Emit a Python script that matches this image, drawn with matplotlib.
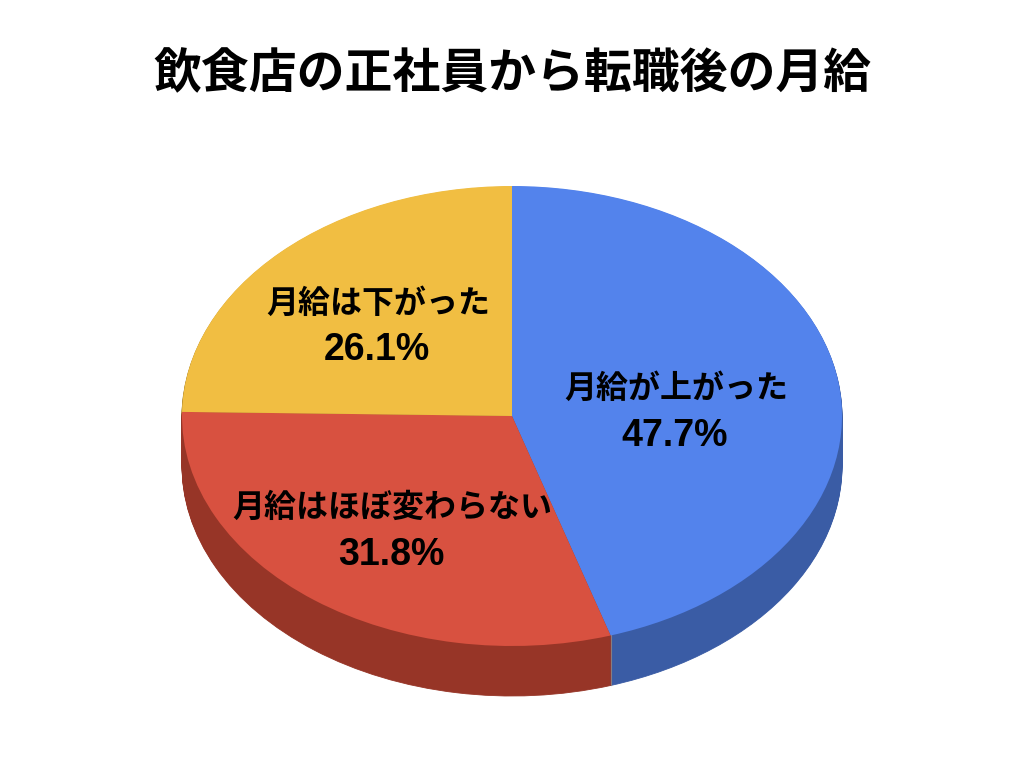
import numpy as np
import matplotlib
matplotlib.use("Agg")
import matplotlib.pyplot as plt

plt.rcParams['font.family'] = ['Noto Sans CJK JP', 'DejaVu Sans']

title = "飲食店の正社員から転職後の月給"
categories = ["月給が上がった", "月給はほぼ変わらない", "月給は下がった"]
values = [47.7, 31.8, 26.1]
top_colors = ["#5383EC", "#D85140", "#F1BE42"]
side_colors = ["#3A5CA5", "#973527", "#A98530"]

W, H = 1024, 768
CX, CY, RX, RY = 512, 416, 330, 230
DEPTH = 50

fig = plt.figure(figsize=(W / 100, H / 100), dpi=100, facecolor="white")
ax = fig.add_axes([0, 0, 1, 1])

# extruded rim: stacked copies of the pie, bottom to top
for d in range(DEPTH, 0, -1):
    ax.pie(values, colors=side_colors, startangle=90, counterclock=False,
           center=(0, -d / RY), radius=1,
           wedgeprops=dict(linewidth=0.6, edgecolor=None), frame=False)
    for p in ax.patches[-len(values):]:
        p.set_edgecolor(p.get_facecolor())

# seam between the blue and red rim
theta = np.deg2rad(90 - 360 * values[0] / sum(values))
sx, sy = np.cos(theta), np.sin(theta)
ax.plot([sx, sx], [sy, sy - DEPTH / RY], color="#8A7C80", lw=0.8, zorder=3)

# top face
wedges, _ = ax.pie(values, colors=top_colors, startangle=90, counterclock=False,
                   center=(0, 0), radius=1, wedgeprops=dict(linewidth=0))
for w in wedges:
    w.set_zorder(4)

ax.set_aspect("auto")
ax.set_xlim((0 - CX) / RX, (W - CX) / RX)
ax.set_ylim((CY - H) / RY, CY / RY)
ax.axis("off")


def px_text(x, y, s, size, family=None):
    fig.text(x / W, 1 - y / H, s, ha="center", va="center", fontsize=size,
             fontweight="bold", color="black", zorder=10,
             family=family or ['Noto Sans CJK JP', 'DejaVu Sans'])


px_text(512, 74, title, 34.5)
label_pos = [(676, 389, 675, 436), (392, 508, 391, 555), (378, 304, 377, 350)]
for cat, val, (lx, ly, vx, vy) in zip(categories, values, label_pos):
    px_text(lx, ly, cat, 23)
    px_text(vx, vy, f"{val}%", 27, family=['Liberation Sans'])

fig.savefig("out.png", dpi=100, facecolor="white")
